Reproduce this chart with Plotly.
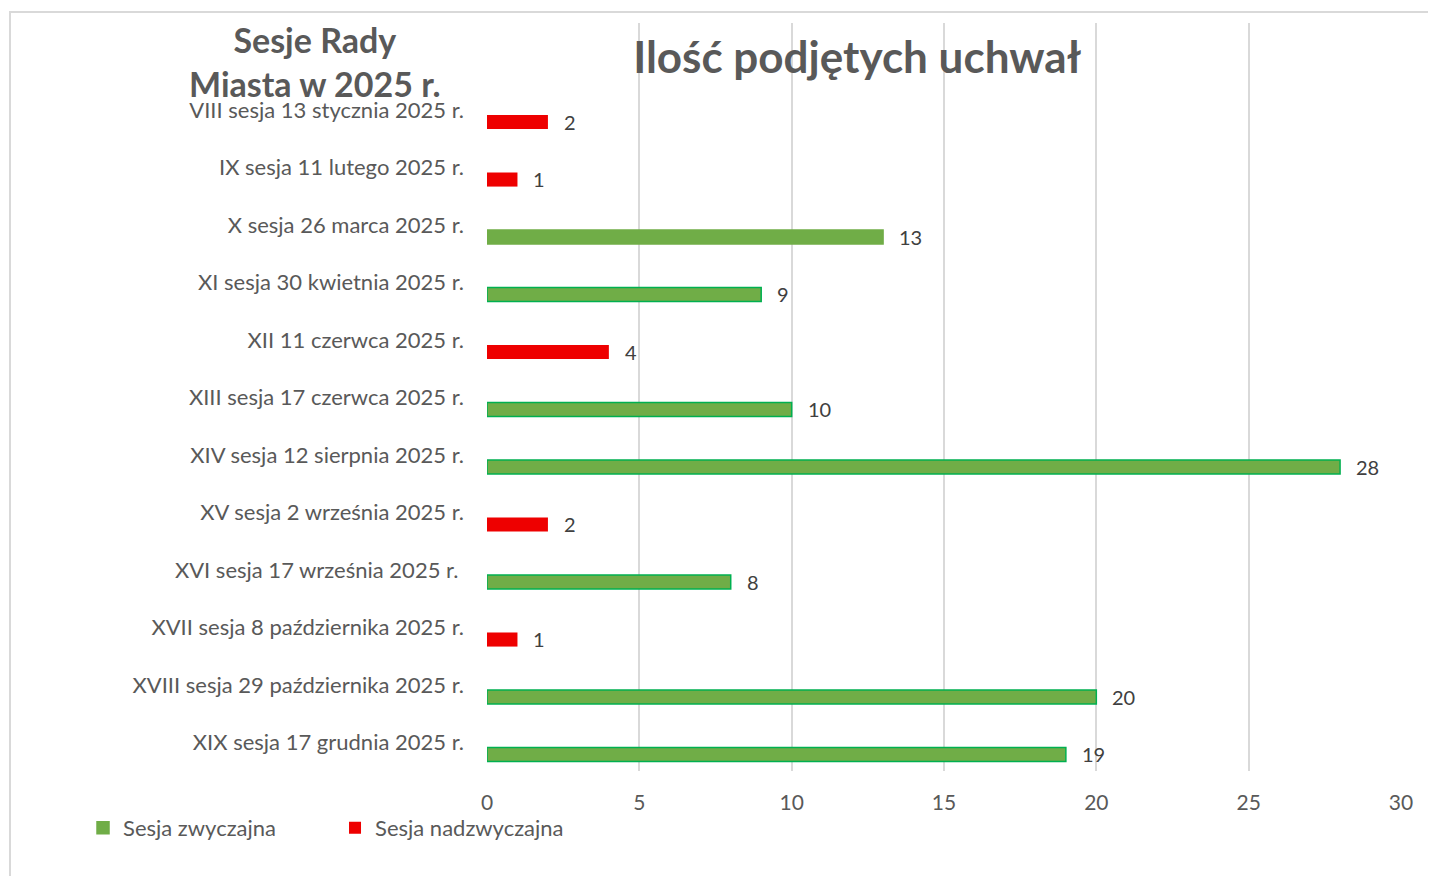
import plotly.graph_objects as go

categories = [
    "VIII sesja 13 stycznia 2025 r.",
    "IX sesja 11 lutego 2025 r.",
    "X sesja 26 marca 2025 r.",
    "XI sesja 30 kwietnia 2025 r.",
    "XII 11 czerwca 2025 r.",
    "XIII sesja 17 czerwca 2025 r.",
    "XIV sesja 12 sierpnia 2025 r.",
    "XV sesja 2 września 2025 r.",
    "XVI sesja 17 września 2025 r. ",
    "XVII sesja 8 października 2025 r.",
    "XVIII sesja 29 października 2025 r.",
    "XIX sesja 17 grudnia 2025 r.",
]
zwyczajna = [None, None, 13, 9, None, 10, 28, None, 8, None, 20, 19]
nadzwyczajna = [2, 1, None, None, 4, None, None, 2, None, 1, None, None]
x_ticks = [0, 5, 10, 15, 20, 25, 30]

FONT = "Lato"
GREEN = "#70ad47"
GREEN_EDGE = "#00b050"
RED = "#ee0000"
GRAY = "#595959"

green_edges = [GREEN_EDGE if v is not None else GREEN for v in zwyczajna]
green_edges[0] = GREEN
green_edges[2] = GREEN  # X sesja bar has no visible outline

fig = go.Figure()
fig.add_trace(go.Bar(
    y=categories, x=zwyczajna, orientation="h", name="Sesja zwyczajna",
    marker=dict(color=GREEN, line=dict(color=green_edges, width=1.5)),
    width=0.245, offset=0.087, hoverinfo="x+y",
))
fig.add_trace(go.Bar(
    y=categories, x=nadzwyczajna, orientation="h", name="Sesja nadzwyczajna",
    marker=dict(color=RED, line=dict(color=RED, width=0)),
    width=0.245, offset=0.087, hoverinfo="x+y",
))

for cat, a, b in zip(categories, zwyczajna, nadzwyczajna):
    v = a if a is not None else b
    fig.add_annotation(x=v, y=cat, text=str(v), showarrow=False,
                       xanchor="left", yanchor="middle", xshift=14, yshift=-12,
                       font=dict(family=FONT, size=20, color="#404040"))

fig.add_annotation(xref="paper", yref="paper", x=-0.188, y=0.949,
                   text="<b>Sesje Rady<br>Miasta w 2025 r.</b>", showarrow=False,
                   xanchor="center", yanchor="middle", align="center",
                   font=dict(family=FONT, size=34, color=GRAY))

# chart frame
fig.add_shape(type="rect", xref="paper", yref="paper",
              x0=-0.5219, x1=1.2, y0=-0.3, y1=1.0147,
              line=dict(color="#d9d9d9", width=2), fillcolor="rgba(0,0,0,0)", layer="below")

fig.update_layout(
    width=1428, height=868,
    margin=dict(l=479, r=35, t=15, b=105),
    paper_bgcolor="white", plot_bgcolor="white",
    barmode="overlay",
    font=dict(family=FONT, size=20, color=GRAY),
    title=dict(text="<b>Ilość podjętych uchwał</b>", x=0.405, xref="paper",
               y=0.9424, yref="container", xanchor="center", yanchor="middle",
               font=dict(family=FONT, size=44, color=GRAY)),
    showlegend=True,
    legend=dict(orientation="h", x=-0.442, y=-0.076, xanchor="left", yanchor="middle",
                xref="paper", yref="paper", font=dict(family=FONT, size=22, color=GRAY),
                bgcolor="rgba(0,0,0,0)",
                entrywidth=207, entrywidthmode="pixels", traceorder="normal",
                itemclick=False, itemdoubleclick=False),
    xaxis=dict(range=[0, 30], tickvals=x_ticks, showgrid=True, gridcolor="#d9d9d9",
               gridwidth=1.5, zeroline=False, showline=False, ticks="",
               ticklabelstandoff=17, tickfont=dict(family=FONT, size=21, color=GRAY)),
    yaxis=dict(type="category", categoryorder="array", categoryarray=categories,
               range=[11.496, -1.513], showgrid=False, zeroline=False, showline=False,
               ticks="", ticklabelstandoff=22,
               tickfont=dict(family=FONT, size=22, color=GRAY)),
)

fig.write_html("out.html")
